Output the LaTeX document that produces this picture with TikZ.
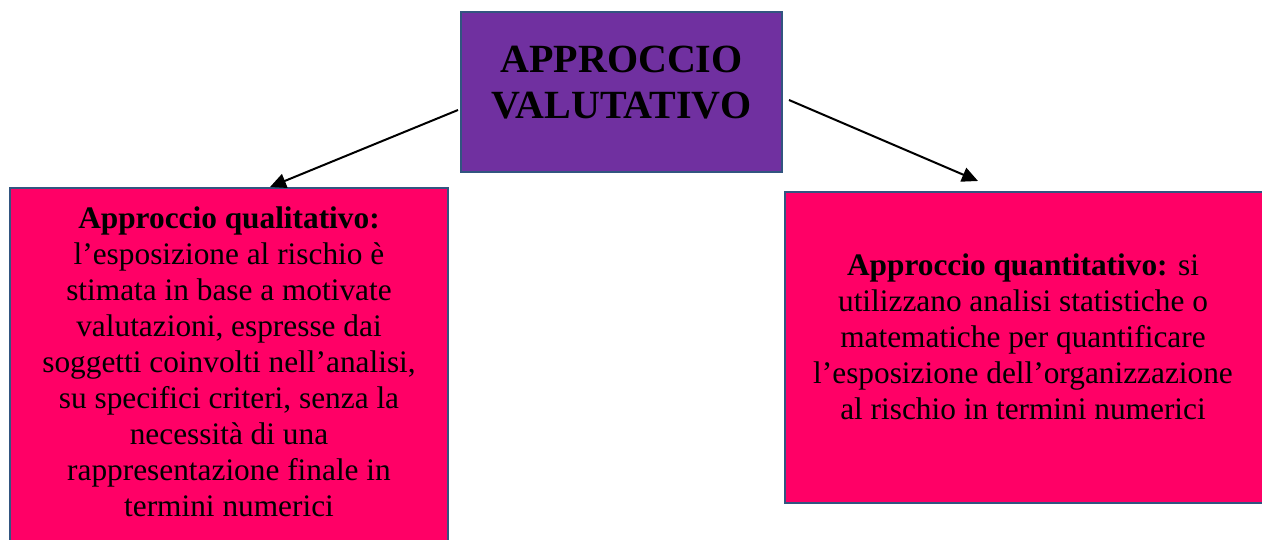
\documentclass[tikz,border=0pt]{standalone}
\usepackage{fontspec}
\setmainfont{Liberation Serif}
\usetikzlibrary{arrows.meta}
\definecolor{boxpurple}{RGB}{112,48,160}
\definecolor{boxpink}{RGB}{255,0,102}
\definecolor{boxedge}{RGB}{50,85,128}

\begin{document}
\begin{tikzpicture}[x=0.75pt,y=-0.75pt,
    boxshape/.style={draw=boxedge, line width=1.5pt, inner sep=0pt, minimum width=#1},
    titletext/.style={inner sep=0pt, align=center, anchor=north, font=\fontsize{30}{34.5}\selectfont\bfseries},
    bodytext/.style={inner sep=0pt, align=center, anchor=north, font=\fontsize{23.5}{27}\selectfont},
    link/.style={line width=1.5pt, -{Triangle[length=12pt,width=11pt]}}]
    %%%%% START %%%%%

    \clip (0,0) rectangle (1262,539);

    % boxes
    \node[boxshape=240.75pt, fill=boxpurple, minimum height=120pt] (valut) at (621.5,92) {};
    \node[boxshape=328.5pt, fill=boxpink, minimum height=309pt] (qual) at (229,394) {};
    \node[boxshape=378.75pt, fill=boxpink, minimum height=233.25pt] (quant) at (1037.5,347.5) {};

    % texts
    \node[titletext] (valuttext) at (621.5,46) {APPROCCIO\\VALUTATIVO};
    \node[bodytext] (qualtext) at (229,206) {\textbf{Approccio qualitativo:}\\
        l’esposizione al rischio è\\
        stimata in base a motivate\\
        valutazioni, espresse dai\\
        soggetti coinvolti nell’analisi,\\
        su specifici criteri, senza la\\
        necessità di una\\
        rappresentazione finale in\\
        termini numerici};
    \node[bodytext] (quanttext) at (1023,253) {\textbf{Approccio quantitativo:} si\\
        utilizzano analisi statistiche o\\
        matematiche per quantificare\\
        l’esposizione dell’organizzazione\\
        al rischio in termini numerici};

    % arrows
    \coordinate (qualstart) at (458,110);
    \coordinate (qualtip) at (270,187);
    \coordinate (quantstart) at (789,100);
    \coordinate (quanttip) at (978,181);
    \draw[link] (qualstart) -- (qualtip);
    \draw[link] (quantstart) -- (quanttip);

    %%%%% END %%%%%
\end{tikzpicture}
\end{document}
